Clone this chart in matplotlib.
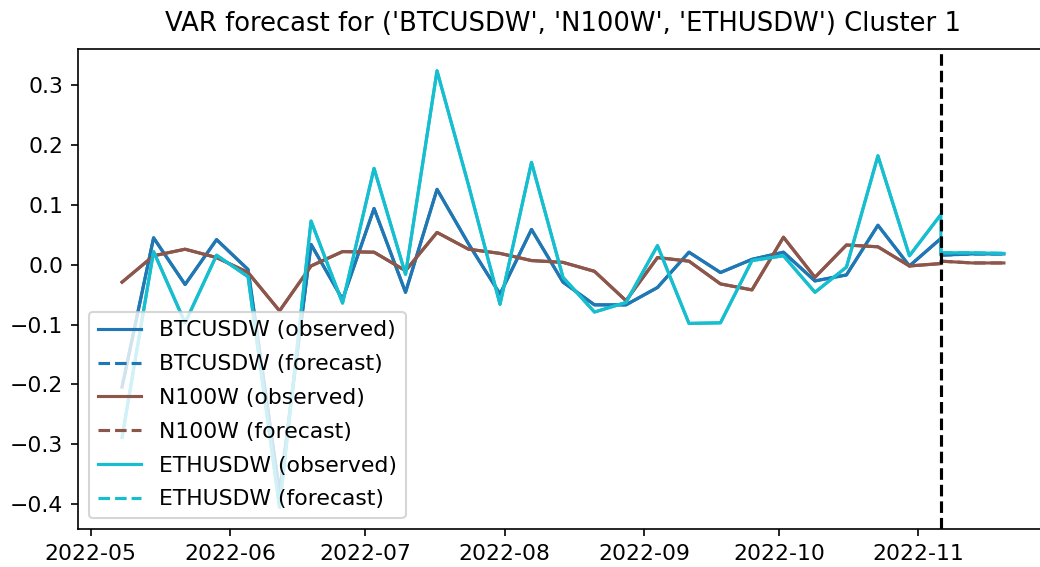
import matplotlib
matplotlib.use("Agg")
import matplotlib.pyplot as plt
import pandas as pd

# weekly returns, observed part
obs_dates = pd.date_range("2022-05-08", "2022-11-06", freq="7D")
btc_obs = [-0.204, 0.045, -0.033, 0.042, -0.008, -0.38, 0.034, -0.058, 0.094, -0.046,
           0.126, 0.035, -0.049, 0.059, -0.029, -0.067, -0.067, -0.038, 0.021, -0.013,
           0.009, 0.021, -0.027, -0.017, 0.066, -0.002, 0.044]
n100_obs = [-0.029, 0.015, 0.026, 0.012, -0.013, -0.077, -0.002, 0.022, 0.021, -0.010,
            0.054, 0.026, 0.019, 0.007, 0.004, -0.011, -0.060, 0.012, 0.006, -0.032,
            -0.042, 0.046, -0.021, 0.033, 0.030, -0.002, 0.002]
eth_obs = [-0.288, 0.022, -0.097, 0.016, -0.020, -0.405, 0.073, -0.064, 0.161, -0.016,
           0.324, 0.133, -0.066, 0.171, -0.021, -0.079, -0.063, 0.032, -0.098, -0.097,
           0.007, 0.015, -0.046, -0.004, 0.182, 0.015, 0.084]

# VAR forecast, anchored at the last observed week
fc_dates = pd.date_range("2022-11-06", "2022-11-20", freq="7D")
btc_fc = [0.016, 0.018, 0.018]
n100_fc = [0.006, 0.003, 0.003]
eth_fc = [0.020, 0.020, 0.019]

series = [
    ("BTCUSDW", btc_obs, btc_fc, "tab:blue"),
    ("N100W", n100_obs, n100_fc, "tab:brown"),
    ("ETHUSDW", eth_obs, eth_fc, "tab:cyan"),
]

plt.rcParams["font.size"] = 10.5
plt.rcParams["axes.titlesize"] = 12.4

fig = plt.figure(figsize=(1040 / 150, 567 / 150), dpi=150)
ax = fig.add_axes([78 / 1040, 38 / 567, 970 / 1040, 480 / 567])

for name, obs, fc, col in series:
    ax.plot(obs_dates, obs, color=col, label=f"{name} (observed)")
    ax.plot(list(obs_dates) + list(fc_dates), obs + fc, color=col)
    ax.plot(fc_dates, fc, color=col, linestyle="--", label=f"{name} (forecast)")

ax.axvline(obs_dates[-1], color="k", linestyle="--")
ax.set_title("VAR forecast for ('BTCUSDW', 'N100W', 'ETHUSDW') Cluster 1", pad=8.5)
ax.legend(loc="lower left", labelspacing=0.63)
ax.spines["right"].set_visible(False)

fig.savefig("out.png", dpi=150)
